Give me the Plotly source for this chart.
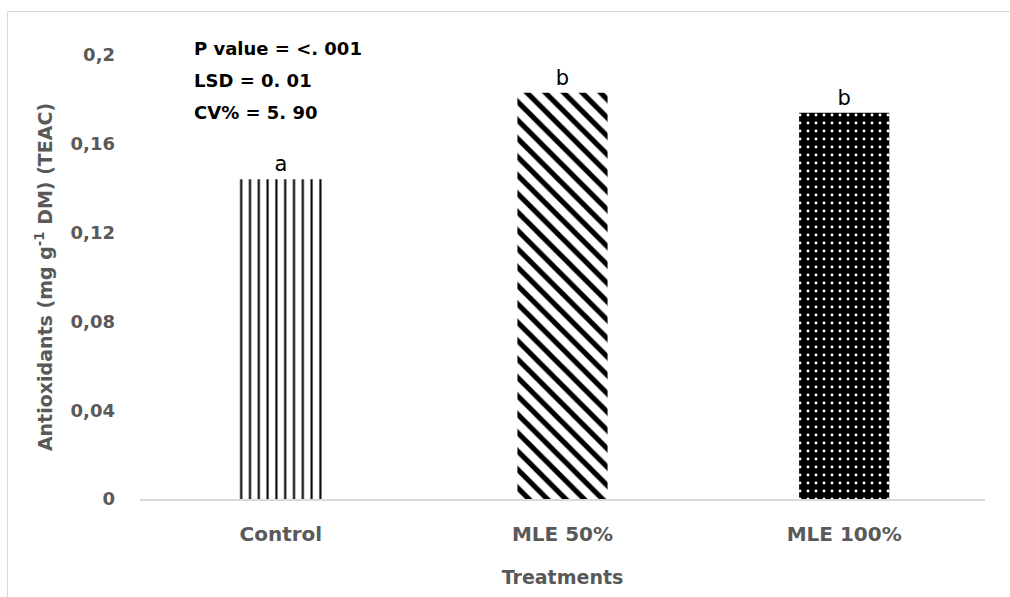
import plotly.graph_objects as go

# ---- data ----
categories = ["Control", "MLE 50%", "MLE 100%"]
antioxidants = [0.144, 0.183, 0.174]
letters = ["a", "b", "b"]
tick_vals = [0, 0.04, 0.08, 0.12, 0.16, 0.2]
tick_text = ["0", "0,04", "0,08", "0,12", "0,16", "0,2"]
stats_lines = ["P value = <. 001", "LSD = 0. 01", "CV% = 5. 90"]

# plot area in pixels
W, H = 1010, 597
L, R, T, B = 140, 25, 55, 98
pw, ph = W - L - R, H - T - B

def px_x(x):
    return (x - L) / pw

def px_y(y):
    return (H - B - y) / ph

FONT = "DejaVu Sans"
GRAY = "#595959"

patterns = [
    dict(shape="|", size=8.8, solidity=0.24, fgcolor="black", bgcolor="white", fillmode="replace"),
    dict(shape="\\", size=13, solidity=0.4, fgcolor="black", bgcolor="white", fillmode="replace"),
    dict(shape=".", size=8, solidity=0.1, fgcolor="white", bgcolor="black", fillmode="replace"),
]

fig = go.Figure()
for cat, val, let, pat in zip(categories, antioxidants, letters, patterns):
    fig.add_trace(go.Bar(
        x=[cat], y=[val], text=[let], textposition="outside",
        textfont=dict(family=FONT, size=21, color="black"),
        marker=dict(color="black", line=dict(width=0), pattern=pat),
        width=0.32, cliponaxis=False, showlegend=False,
    ))

for i, line in enumerate(stats_lines):
    fig.add_annotation(
        x=px_x(192), y=px_y(48 + 32 * i), xref="paper", yref="paper",
        text=f"<b>{line}</b>", showarrow=False, xanchor="left", yanchor="middle",
        font=dict(family=FONT, size=18, color="black"),
    )

fig.add_shape(type="rect", xref="paper", yref="paper",
              x0=px_x(7.5), x1=px_x(1030), y0=px_y(620), y1=px_y(11.5),
              line=dict(color="#d9d9d9", width=1), fillcolor="rgba(0,0,0,0)", layer="below")

fig.update_layout(
    width=W, height=H,
    margin=dict(l=L, r=R, t=T, b=B, autoexpand=False),
    paper_bgcolor="white", plot_bgcolor="white",
    barmode="overlay",
    xaxis=dict(
        title=dict(text="<b>Treatments</b>", font=dict(family=FONT, size=19, color=GRAY), standoff=26),
        tickfont=dict(family=FONT, size=20, color=GRAY),
        tickprefix="<b>", ticksuffix="</b>",
        showline=True, linecolor="#d9d9d9", linewidth=1.5,
        ticks="", ticklabelstandoff=16, showgrid=False, zeroline=False,
        categoryorder="array", categoryarray=categories,
    ),
    yaxis=dict(
        title=dict(text="<b>Antioxidants (mg g<sup>-1</sup> DM) (TEAC)</b>",
                   font=dict(family=FONT, size=19, color=GRAY), standoff=12),
        range=[0, 0.2], tickvals=tick_vals, ticktext=[f"<b>{t}</b>" for t in tick_text],
        tickfont=dict(family=FONT, size=18, color=GRAY),
        showline=False, showgrid=False, zeroline=False,
        ticks="", ticklabelstandoff=24,
    ),
)

fig.write_html("out.html")
